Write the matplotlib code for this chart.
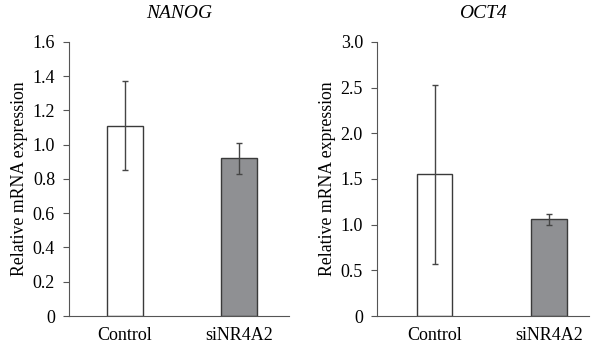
import numpy as np
import matplotlib
matplotlib.use('Agg')
import matplotlib.pyplot as plt

plt.rcParams['font.family'] = ['Liberation Serif', 'DejaVu Serif']

groups = ['Control', 'siNR4A2']
nanog_mean = [1.11, 0.92]
nanog_err = [0.26, 0.09]
oct4_mean = [1.55, 1.06]
oct4_err = [0.98, 0.06]

bar_colors = ['white', '#8f9093']
edge = '#3a3a3a'

fig = plt.figure(figsize=(6.0, 3.46), dpi=100)
ax1 = fig.add_axes([0.115, 0.0867, 0.367, 0.792])
ax2 = fig.add_axes([0.628, 0.0867, 0.354, 0.792])

def draw(ax, means, errs, ymax, step, title, xlim, fmt):
    x = np.arange(len(groups))
    ax.bar(x, means, width=0.31, color=bar_colors, edgecolor=edge, linewidth=1.0, zorder=2)
    ax.errorbar(x, means, yerr=errs, fmt='none', ecolor='#454545', elinewidth=1.0,
                capsize=2.5, capthick=1.0, zorder=3)
    ax.set_xlim(*xlim)
    ax.set_ylim(0, ymax)
    ticks = np.arange(0, ymax + step / 2, step)
    ax.set_yticks(ticks)
    ax.set_yticklabels(['0'] + [fmt % t for t in ticks[1:]])
    ax.set_xticks(x)
    ax.set_xticklabels(groups)
    ax.tick_params(axis='x', length=0, pad=8, labelsize=13)
    ax.tick_params(axis='y', length=4, width=0.8, color='#555555', pad=6, labelsize=13)
    for s in ['top', 'right']:
        ax.spines[s].set_visible(False)
    for s in ['left', 'bottom']:
        ax.spines[s].set_color('#555555')
        ax.spines[s].set_linewidth(0.8)
    ax.set_ylabel('Relative mRNA expression', fontsize=12.8, labelpad=3)
    ax.set_title(title, fontsize=14, style='italic', pad=17)

draw(ax1, nanog_mean, nanog_err, 1.6, 0.2, 'NANOG', (-0.49, 1.44), '%.1f')
draw(ax2, oct4_mean, oct4_err, 3.0, 0.5, 'OCT4', (-0.505, 1.35), '%.1f')

fig.savefig('out.png', dpi=100)
